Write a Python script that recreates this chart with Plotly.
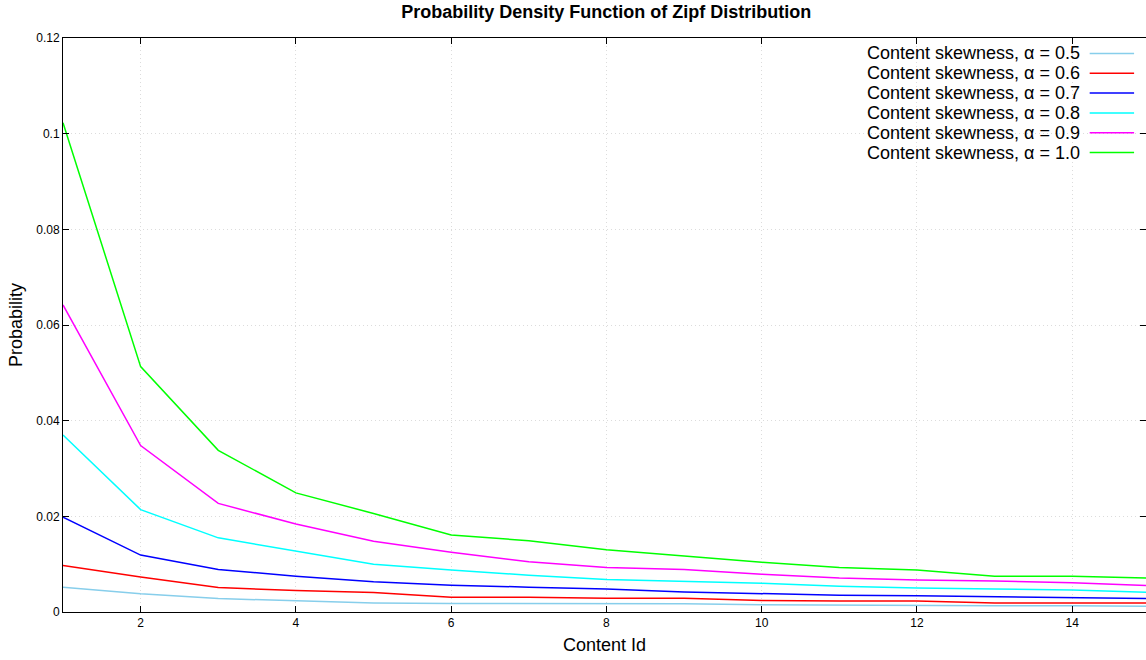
import plotly.graph_objects as go

content_id = list(range(1, 16))

alphas = ["0.5", "0.6", "0.7", "0.8", "0.9", "1.0"]
colors = ["#87CEEB", "#FF0000", "#0000FF", "#00FFFF", "#FF00FF", "#00FF00"]

p_05 = [0.0052, 0.0038, 0.0028, 0.0024, 0.0019, 0.0018, 0.0018, 0.0017, 0.0017, 0.0015,
        0.0014, 0.0014, 0.0013, 0.0013, 0.0012]
p_06 = [0.0097, 0.0073, 0.0051, 0.0045, 0.0041, 0.0031, 0.0031, 0.0029, 0.0029, 0.0024,
        0.0023, 0.0023, 0.0019, 0.0019, 0.0019]
p_07 = [0.0198, 0.0119, 0.0089, 0.0075, 0.0063, 0.0056, 0.0052, 0.0048, 0.0042, 0.0038,
        0.0035, 0.0034, 0.0032, 0.0029, 0.0028]
p_08 = [0.0370, 0.0214, 0.0155, 0.0128, 0.0100, 0.0088, 0.0077, 0.0068, 0.0064, 0.0060,
        0.0054, 0.0050, 0.0048, 0.0046, 0.0041]
p_09 = [0.0642, 0.0348, 0.0227, 0.0184, 0.0148, 0.0125, 0.0105, 0.0093, 0.0089, 0.0079,
        0.0071, 0.0067, 0.0065, 0.0061, 0.0055]
p_10 = [0.1023, 0.0513, 0.0338, 0.0249, 0.0206, 0.0161, 0.0149, 0.0130, 0.0117, 0.0104,
        0.0093, 0.0088, 0.0075, 0.0075, 0.0071]

series = [p_05, p_06, p_07, p_08, p_09, p_10]
names = ["Content skewness, \u03b1 = " + a for a in alphas]

fig = go.Figure()
for name, col, vals in zip(names, colors, series):
    fig.add_trace(go.Scatter(x=content_id, y=vals, mode="lines", name=name,
                             line=dict(color=col, width=1.5), showlegend=False))

# custom gnuplot-style key: text right-aligned, line sample on the right
key_top = 0.973
key_step = 0.0345
for i, (name, col) in enumerate(zip(names, colors)):
    yk = key_top - i * key_step
    fig.add_annotation(x=0.941, y=yk, xref="paper", yref="paper", text=name,
                       showarrow=False, xanchor="right", yanchor="middle",
                       font=dict(family="Liberation Sans, Arial", size=18, color="#000000"))
    fig.add_shape(type="line", xref="paper", yref="paper", x0=0.948, x1=0.989,
                  y0=yk, y1=yk, line=dict(color=col, width=1.5))

axis_common = dict(
    showline=True, linecolor="#000000", linewidth=1, mirror="ticks",
    ticks="inside", ticklen=6, tickcolor="#000000",
    showgrid=True, gridcolor="#dcdcdc", griddash="1px,3px", gridwidth=1,
    zeroline=False,
    tickfont=dict(family="Liberation Sans, Arial", size=12, color="#000000"),
)

fig.update_layout(
    width=1146, height=660,
    margin=dict(l=63, r=0, t=38, b=48),
    paper_bgcolor="white", plot_bgcolor="white",
    title=dict(text="<b>Probability Density Function of Zipf Distribution</b>",
               x=0.529, xanchor="center", y=0.983, yanchor="middle",
               font=dict(family="Liberation Sans, Arial", size=18, color="#000000")),
    xaxis=dict(range=[1, 14.95], tickvals=[2, 4, 6, 8, 10, 12, 14],
               title=dict(text="Content Id", standoff=8,
                          font=dict(family="Liberation Sans, Arial", size=18, color="#000000")),
               **axis_common),
    yaxis=dict(range=[0, 0.12], dtick=0.02,
               title=dict(text="Probability", standoff=8,
                          font=dict(family="Liberation Sans, Arial", size=18, color="#000000")),
               **axis_common),
)

fig.write_html("out.html",
               config={"displayModeBar": False},
               post_script="document.body.style.margin='0';document.body.style.overflow='hidden';")
